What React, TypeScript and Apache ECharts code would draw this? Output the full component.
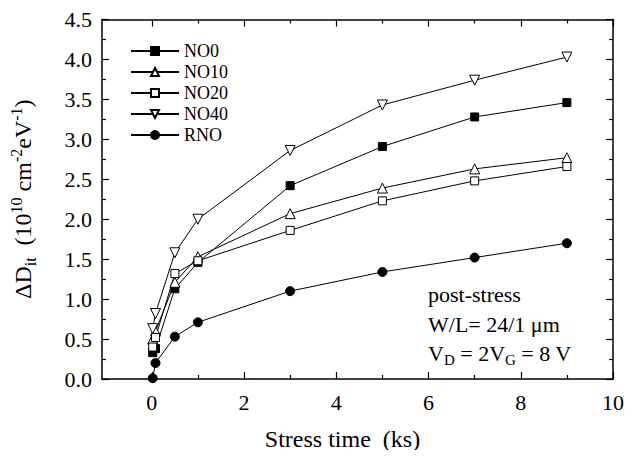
import React, { useEffect, useRef } from "react";
import * as echarts from "echarts";

const seriesNames = ["NO0", "NO10", "NO20", "NO40", "RNO"];
const stressTimes = [0.02, 0.08, 0.5, 1, 3, 5, 7, 9];
const no0 = [0.33, 0.38, 1.13, 1.46, 2.42, 2.91, 3.28, 3.46];
const no10 = [0.5, 0.6, 1.21, 1.53, 2.07, 2.39, 2.63, 2.77];
const no20 = [0.4, 0.52, 1.32, 1.48, 1.86, 2.23, 2.48, 2.66];
const no40 = [0.63, 0.82, 1.58, 2.0, 2.86, 3.43, 3.74, 4.03];
const rno = [0.01, 0.2, 0.53, 0.71, 1.1, 1.34, 1.52, 1.7];
const xMajorTicks = [0, 2, 4, 6, 8, 10];
const xMinorTicks = [1, 3, 5, 7, 9];

const FONT = "Liberation Serif";

export default function App() {
  const ref = useRef<HTMLDivElement>(null);
  useEffect(() => {
    if (!ref.current) return;
    const chart = echarts.init(ref.current, null, { renderer: "svg" });
    const lineAxis = { show: true, onZero: false, lineStyle: { color: "#000", width: 1.5 } };
    const xBase = { type: "value", min: -1.08, max: 10, splitLine: { show: false } };
    const yBase = { type: "value", min: 0, max: 4.5, interval: 0.5, splitLine: { show: false } };
    const pairs = (vals: number[]) => stressTimes.map((t, i) => [t, vals[i]]);
    const seriesValues = [no0, no10, no20, no40, rno];
    const symbols = ["rect", "triangle", "rect", "triangle", "circle"];
    const filled = [true, false, false, false, true];
    const sizes = [8, 10, 8, 10, 9];
    const rotates = [0, 0, 0, 180, 0];
    const series = seriesNames.map((name, i) => ({
      type: "line",
      name,
      data: pairs(seriesValues[i]),
      symbol: symbols[i],
      symbolSize: sizes[i],
      symbolRotate: rotates[i],
      showAllSymbol: true,
      lineStyle: { color: "#000", width: 1 },
      itemStyle: {
        color: filled[i] ? "#000" : "#fff",
        borderColor: "#000",
        borderWidth: 1,
      },
      emphasis: { disabled: true },
    }));
    const tickStyle = { color: "#000", width: 1.2 };
    const richT = (size: number) => ({
      t: { fontFamily: FONT, fontSize: size, color: "#000" },
    });
    chart.setOption({
      animation: false,
      textStyle: { fontFamily: FONT, color: "#000" },
      grid: { left: 98, right: 26, top: 19.5, bottom: 79 },
      legend: {
        orient: "vertical",
        left: 125,
        top: 37,
        itemWidth: 48,
        itemHeight: 10,
        itemGap: 3,
        data: seriesNames,
        formatter: (n: string) => `{t|${n}}`,
        textStyle: { fontFamily: FONT, fontSize: 18, color: "#000", rich: richT(18) },
      },
      xAxis: [
        {
          ...xBase,
          position: "bottom",
          axisLine: lineAxis,
          axisTick: { show: true, inside: true, length: 7, customValues: xMajorTicks, lineStyle: tickStyle },
          axisLabel: {
            show: true,
            customValues: xMajorTicks,
            margin: 12,
            fontFamily: FONT,
            fontSize: 22,
            color: "#000",
            formatter: (v: number) => `{t|${v}}`,
            rich: richT(22),
          },
          name: "{t|Stress time  (ks)}",
          nameLocation: "middle",
          nameGap: 48,
          nameTextStyle: { fontFamily: FONT, fontSize: 24, color: "#000", padding: [0, 30, 0, 0], rich: richT(24) },
        },
        {
          ...xBase,
          position: "bottom",
          axisLine: { show: false, onZero: false },
          axisTick: { show: true, inside: true, length: 4, customValues: xMinorTicks, lineStyle: tickStyle },
          axisLabel: { show: false },
        },
        {
          ...xBase,
          position: "top",
          axisLine: lineAxis,
          axisTick: { show: true, inside: true, length: 7, customValues: xMajorTicks, lineStyle: tickStyle },
          axisLabel: { show: false },
        },
        {
          ...xBase,
          position: "top",
          axisLine: { show: false, onZero: false },
          axisTick: { show: true, inside: true, length: 4, customValues: xMinorTicks, lineStyle: tickStyle },
          axisLabel: { show: false },
        },
      ],
      yAxis: [
        {
          ...yBase,
          position: "left",
          axisLine: lineAxis,
          axisTick: { show: true, inside: true, length: 7, lineStyle: tickStyle },
          minorTick: { show: true, splitNumber: 2, length: 4, lineStyle: tickStyle },
          axisLabel: {
            margin: 10,
            fontFamily: FONT,
            fontSize: 22,
            color: "#000",
            formatter: (v: number) => `{t|${v.toFixed(1)}}`,
            rich: richT(22),
          },
          name: "{a|ΔD}{sub|it}{a|  (10}{sup|10}{a| cm}{sup|-2}{a|eV}{sup|-1}{a|)}",
          nameLocation: "middle",
          nameRotate: 90,
          nameGap: 64,
          nameTextStyle: {
            rich: {
              a: { fontFamily: FONT, fontSize: 24, color: "#000", lineHeight: 30, verticalAlign: "middle" },
              sub: { fontFamily: FONT, fontSize: 16, color: "#000", lineHeight: 16, verticalAlign: "bottom" },
              sup: { fontFamily: FONT, fontSize: 16, color: "#000", lineHeight: 16, verticalAlign: "top" },
            },
          },
        },
        {
          ...yBase,
          position: "right",
          axisLine: lineAxis,
          axisTick: { show: true, inside: true, length: 7, lineStyle: tickStyle },
          minorTick: { show: true, splitNumber: 2, length: 4, lineStyle: tickStyle },
          axisLabel: { show: false },
        },
      ],
      graphic: [
        {
          type: "text",
          left: 428,
          top: 283,
          style: { text: "post-stress", font: `22px 'Liberation Serif'`, fill: "#000" },
        },
        {
          type: "text",
          left: 428,
          top: 313,
          style: { text: "W/L= 24/1 μm", font: `22px 'Liberation Serif'`, fill: "#000" },
        },
        {
          type: "text",
          left: 428,
          top: 342,
          style: {
            text: "{a|V}{sub|D}{a| = 2V}{sub|G}{a| = 8 V}",
            rich: {
              a: { fontFamily: FONT, fontSize: 22, fill: "#000", lineHeight: 28, verticalAlign: "middle" },
              sub: { fontFamily: FONT, fontSize: 15, fill: "#000", lineHeight: 15, verticalAlign: "bottom" },
            },
          },
        },
      ],
      series,
    });
    return () => chart.dispose();
  }, []);
  return <div ref={ref} style={{ width: 639, height: 458, margin: -8 }} />;
}
